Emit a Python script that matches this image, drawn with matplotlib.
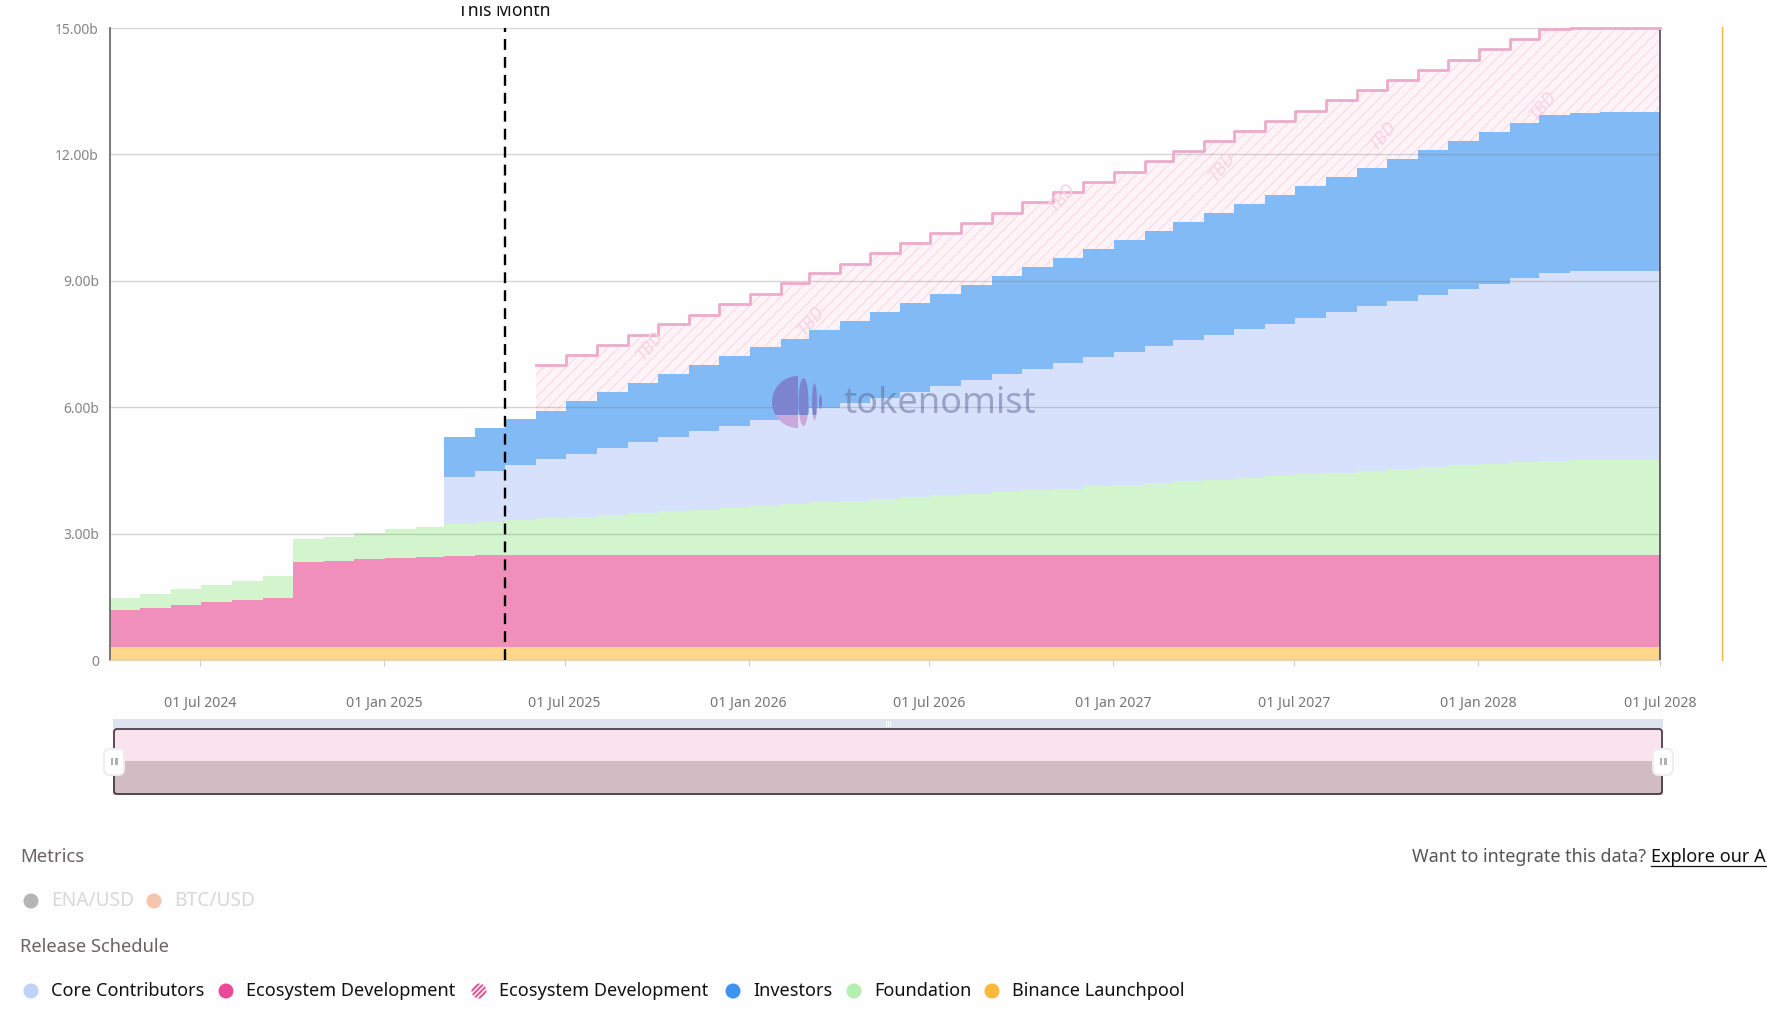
import matplotlib
matplotlib.use('Agg')
import matplotlib.pyplot as plt
import matplotlib.dates as mdates
import pandas as pd
from matplotlib.patches import Rectangle, FancyBboxPatch, Circle, Ellipse, Wedge
from matplotlib.transforms import Bbox

plt.rcParams['font.family'] = ['Noto Sans', 'DejaVu Sans']
plt.rcParams['hatch.linewidth'] = 0.7

W, H = 1767, 1017
BG = '#fefefe'

## Top edge of each stacked band (billions), one value per monthly unlock
months = pd.date_range('2024-04-01', periods=51, freq='MS') + pd.Timedelta(days=1)
axis_end = pd.Timestamp('2028-07-01')

binance_top = [0.31] * 51
ecosystem_top = [1.18, 1.245, 1.30, 1.37, 1.42, 1.48, 2.32, 2.34, 2.39, 2.41, 2.44, 2.48] + [2.5] * 39
foundation_top = [1.48, 1.575, 1.69, 1.78, 1.88, 1.99, 2.86, 2.93, 3.02, 3.10, 3.16, 3.22, 3.27, 3.32,
                  3.36, 3.40, 3.44, 3.49, 3.53, 3.57, 3.61, 3.65, 3.70, 3.74, 3.78, 3.82, 3.86, 3.91,
                  3.95, 3.99, 4.03, 4.07, 4.12, 4.16, 4.20, 4.24, 4.28, 4.33, 4.37, 4.41, 4.45, 4.49,
                  4.54, 4.58, 4.62, 4.66, 4.70, 4.73, 4.75, 4.75, 4.75]
# core and investors start Mar 2025
core_top = [4.35, 4.49, 4.62, 4.76, 4.89, 5.02, 5.17, 5.30, 5.43, 5.56,
            5.70, 5.83, 5.97, 6.09, 6.23, 6.37, 6.50, 6.64, 6.78, 6.91, 7.05, 7.18,
            7.31, 7.45, 7.59, 7.71, 7.86, 7.98, 8.12, 8.26, 8.40, 8.53, 8.66, 8.80,
            8.93, 9.07, 9.19, 9.24, 9.24, 9.24]
investors_top = [5.29, 5.50, 5.71, 5.92, 6.14, 6.35, 6.57, 6.78, 6.99, 7.21,
                 7.42, 7.63, 7.83, 8.05, 8.26, 8.48, 8.69, 8.91, 9.12, 9.33, 9.54, 9.76,
                 9.97, 10.18, 10.40, 10.61, 10.82, 11.03, 11.24, 11.46, 11.67, 11.89, 12.10, 12.32,
                 12.53, 12.74, 12.94, 12.98, 13.0, 13.0]
# hatched TBD part starts Jun 2025
tbd_top = [6.99, 7.24, 7.48, 7.71, 7.97, 8.20, 8.45,
           8.69, 8.94, 9.18, 9.41, 9.65, 9.89, 10.14, 10.38, 10.62, 10.86, 11.11, 11.35,
           11.59, 11.84, 12.07, 12.31, 12.56, 12.79, 13.04, 13.28, 13.53, 13.77, 14.0, 14.25,
           14.49, 14.73, 14.98, 15.0, 15.0, 15.0]

tbd_dates = ['2025-09-24', '2026-03-04', '2026-11-10', '2027-04-20', '2027-09-28', '2028-03-06']
tbd_values = [7.47, 8.05, 10.97, 11.70, 12.44, 13.17]

this_month = pd.Timestamp('2025-05-02')
y_ticks = [0, 3, 6, 9, 12, 15]
y_labels = ['0', '3.00b', '6.00b', '9.00b', '12.00b', '15.00b']
x_ticks = ['2024-07-01', '2025-01-01', '2025-07-01', '2026-01-01', '2026-07-01',
           '2027-01-01', '2027-07-01', '2028-01-01', '2028-07-01']

metric_names = ['ENA/USD', 'BTC/USD']
schedule_names = ['Core Contributors', 'Ecosystem Development', 'Ecosystem Development',
                  'Investors', 'Foundation', 'Binance Launchpool']


def steps(values):
    return list(values) + [values[-1]]


def band(ax, start, lower, upper, **kw):
    x = list(months[start:]) + [axis_end]
    ax.fill_between(x, steps(lower), steps(upper), step='post', linewidth=0, **kw)


fig = plt.figure(figsize=(W / 100, H / 100), dpi=100, facecolor=BG)
ax = fig.add_axes([110 / W, 1 - 660 / H, 1550 / W, 632 / H], facecolor=BG)

band(ax, 0, [0] * 51, binance_top, color='#ffd78a')
band(ax, 0, binance_top, ecosystem_top, color='#f08fbc')
band(ax, 0, ecosystem_top, foundation_top, color='#d3f5cd')
band(ax, 11, foundation_top[11:], core_top, color='#d8e1fc')
band(ax, 11, core_top, investors_top, color='#82baf5')
band(ax, 14, investors_top[3:], tbd_top, facecolor='#fef3f7', edgecolor='#fad6e4', hatch='///')
ax.plot(list(months[14:]) + [axis_end], steps(tbd_top), drawstyle='steps-post',
        color='#ecabca', lw=2.0, zorder=3, clip_on=False)

for d, v in zip(tbd_dates, tbd_values):
    ax.text(pd.Timestamp(d), v, 'TBD', rotation=50, color='#f8d3e1', fontsize=13,
            style='italic', ha='center', va='center', zorder=3)

ax.vlines(this_month, 0, 15, color='black', lw=1.7, linestyles=(0, (4.6, 3.0)), zorder=5)

ax.set_xlim(months[0], axis_end)
ax.set_ylim(0, 15)
ax.set_yticks(y_ticks, y_labels)
ax.set_xticks(pd.to_datetime(x_ticks))
ax.xaxis.set_major_formatter(mdates.DateFormatter('%d %b %Y'))
ax.tick_params(axis='y', length=0, pad=8, labelsize=10, labelcolor='#858585')
ax.tick_params(axis='x', length=4, width=0.8, color='#cccccc', pad=21.5, labelsize=10.2, labelcolor='#767676')
ax.grid(axis='y', color='#777777', alpha=0.3, lw=1.0, zorder=2)
ax.set_axisbelow(False)
ax.spines['top'].set_visible(False)
ax.spines['left'].set_color('#6e6e6e')
ax.spines['left'].set_linewidth(1.3)
ax.spines['right'].set_color('#3c3c46')
ax.spines['right'].set_linewidth(1.1)
ax.spines['bottom'].set_color('#e2d6c4')
ax.spines['bottom'].set_linewidth(1.0)

# everything around the chart is placed in image pixels
ui = fig.add_axes([0, 0, 1, 1], facecolor='none')
ui.set_xlim(0, W)
ui.set_ylim(H, 0)
ui.axis('off')

ui.plot([1722, 1722], [27, 660], color='#f0b64c', lw=1.0)

t = ui.text(504.5, 11, 'This Month', fontsize=12.6, color='#111111', ha='center', va='center')
t.set_clip_box(Bbox([[0, 0], [W, H - 6]]))
t.set_clip_on(True)

# navigator under the chart
ui.add_patch(Rectangle((113, 719), 1550, 10, facecolor='#dde4f0', edgecolor='none'))
ui.add_patch(Rectangle((113, 729), 1550, 32, facecolor='#f9e3ec', edgecolor='none'))
ui.add_patch(Rectangle((113, 761), 1550, 34, facecolor='#d2bcc4', edgecolor='none'))
ui.add_patch(FancyBboxPatch((114, 729), 1548, 65, boxstyle='round,pad=0,rounding_size=3',
                            facecolor='none', edgecolor='#3d3339', lw=1.2))
for cx in [114, 1663]:
    ui.add_patch(FancyBboxPatch((cx - 10, 749), 20, 26, boxstyle='round,pad=0,rounding_size=6',
                                facecolor='white', edgecolor='#eeeeee', lw=1.5, zorder=4))
    for dx in [-2.2, 2.2]:
        ui.add_patch(Rectangle((cx + dx - 1.3, 758), 2.6, 7, facecolor='#b0b0b0', edgecolor='none', zorder=5))
for dx in [-2, 0, 2]:
    ui.add_patch(Rectangle((888 + dx - 0.5, 721), 1, 6, facecolor='white', edgecolor='none'))

# tokenomist watermark, darker over the blue band and pinker below it
logo_parts = [((760, 370, 70, 45), '#7c84cf'), ((760, 415, 70, 20), '#c9a9dc')]
for clip, c in logo_parts:
    clip_rect = Rectangle(clip[:2], clip[2], clip[3], transform=ui.transData)
    shapes = [Wedge((798, 402), 26, 90, 270), Ellipse((803.5, 402), 10, 48),
              Ellipse((814.5, 402), 5, 37), Ellipse((820.5, 402), 3, 14)]
    for shape in shapes:
        shape.set(facecolor=c, edgecolor='none', zorder=3)
        ui.add_patch(shape)
        shape.set_clip_path(clip_rect)
ui.text(843, 404, 'tokenomist', fontsize=26, color='#5a6a96', alpha=0.5, ha='left', va='center', zorder=3)

# text under the navigator
ui.text(20, 857, 'Metrics', fontsize=13.4, color='#6b6363', va='center')
ui.text(1412, 857, 'Want to integrate this data?', fontsize=12.9, color='#555555', va='center')
ui.text(1651, 857, 'Explore our A', fontsize=13, color='#111111', va='center')
ui.plot([1651, 1767], [866, 866], color='#111111', lw=0.9)
ui.text(20, 947, 'Release Schedule', fontsize=13.2, color='#6b6363', va='center')

metric_x = [31, 154]
metric_colors = ['#b5b5b5', '#f6c5ae']
for x, c, name in zip(metric_x, metric_colors, metric_names):
    ui.add_patch(Circle((x, 901), 7.5, facecolor=c, edgecolor='none'))
    ui.text(x + 20, 901, name, fontsize=13.8, color='#d8d8d8', va='center')

schedule_x = [31, 226, 479, 733, 854, 992]
schedule_colors = ['#c0d2f8', '#ec4899', None, '#3d94f0', '#b2efb0', '#fbb93c']
for x, c, name in zip(schedule_x, schedule_colors, schedule_names):
    if c is None:
        # striped dot for the TBD entry
        dot = Circle((x, 991), 7.5, transform=ui.transData)
        for off in [-7.5, -2.5, 2.5, 7.5]:
            stripe, = ui.plot([x + off - 9, x + off + 9], [1000, 982], color='#e0559b', lw=1.5)
            stripe.set_clip_path(dot)
    else:
        ui.add_patch(Circle((x, 991), 7.5, facecolor=c, edgecolor='none'))
    ui.text(x + 20, 991, name, fontsize=13, color='#111111', va='center')

fig.savefig('out.png', dpi=100, facecolor=BG)
